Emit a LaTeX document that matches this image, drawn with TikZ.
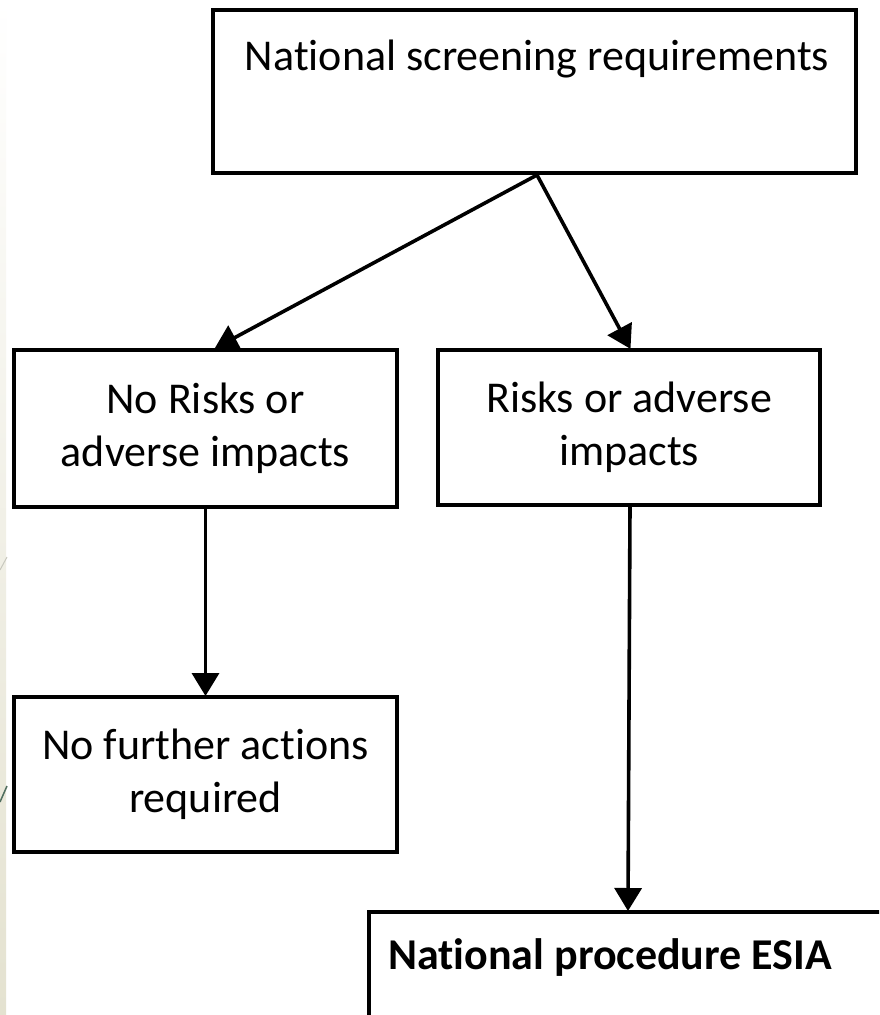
\documentclass[tikz,border=0pt]{standalone}
\usepackage{fontspec}
\setmainfont{Carlito}[Ligatures=NoCommon, Contextuals=NoAlternate]
\usetikzlibrary{arrows.meta}
\definecolor{stripbeige}{RGB}{228,226,208}
\definecolor{stripgray}{RGB}{200,200,190}
\definecolor{stripgreen}{RGB}{80,110,95}
\newcommand{\nti}{t\kern0pt i}
\tikzset{
  box/.style={draw=black, line width=4pt, fill=white, rectangle, inner sep=0pt},
  lbl/.style={align=center, font=\fontsize{44}{53.5}\selectfont, text=black, inner sep=0pt},
  arr/.style={line width=3.6pt, -{Triangle[length=23pt,width=27pt]}, shorten >=-1pt}
}
\begin{document}
\begin{tikzpicture}[x=1pt,y=-1pt]
\useasboundingbox (0,0) rectangle (879,1015);
\clip (0,0) rectangle (879,1015);
\fill[white] (0,0) rectangle (879,1015);
% slide decoration strip on the left
\shade[top color=white, bottom color=stripbeige] (0,0) rectangle (6,1015);
\draw[line width=1pt, stripgray] (0,570) -- (7,557);
\draw[line width=1.5pt, stripgreen] (0,802) -- (7,786);

% boxes
\node[box, minimum width=643pt, minimum height=163pt] (top) at (534.5,91.5) {};
\node[lbl] (toptxt) at (537,59) {Na\nti onal screening requirements};
\node[box, lbl, minimum width=383pt, minimum height=157pt] (nr) at (205.5,428.5) {No Risks or\\adverse impacts};
\node[box, lbl, minimum width=382pt, minimum height=155pt] (ri) at (629,427.5) {Risks or adverse\\impacts};
\node[box, lbl, minimum width=383pt, minimum height=155pt] (nf) at (205.5,774.5) {No further ac\nti ons\\required};
\node[box, anchor=north west, minimum width=520pt, minimum height=115pt] (esia) at (367,910) {};
\node[lbl, anchor=west, font=\fontsize{44}{53.5}\selectfont\bfseries] (esiatxt) at (388,958) {Na\nti onal procedure ESIA};

% connectors
\draw[arr] ([xshift=2.5pt]top.south) -- ([xshift=10pt]nr.north);
\draw[arr] ([xshift=2.5pt]top.south) -- ([xshift=1pt]ri.north);
\draw[arr] (nr.south) -- (nf.north);
\draw[arr] ([xshift=1pt]ri.south) -- ([xshift=-1pt]ri.south |- esia.north);
\end{tikzpicture}
\end{document}
